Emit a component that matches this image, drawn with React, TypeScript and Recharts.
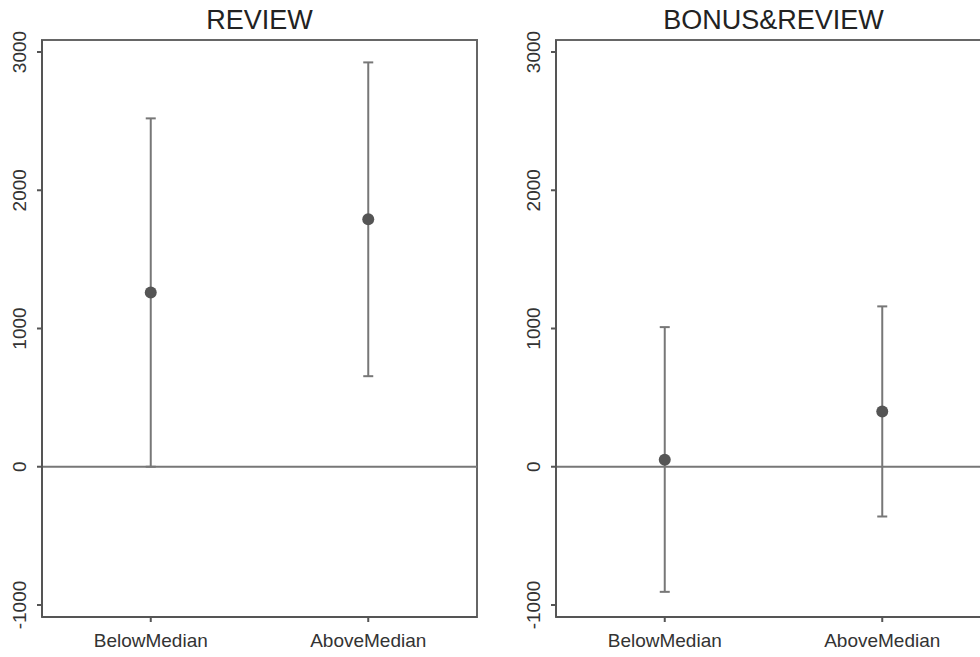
import {
  ComposedChart,
  Scatter,
  ErrorBar,
  XAxis,
  YAxis,
  ReferenceLine,
  ReferenceArea,
} from 'recharts';

const categories = ['BelowMedian', 'AboveMedian'];
const yTicks = [-1000, 0, 1000, 2000, 3000];

// REVIEW panel
const reviewMean = [1260, 1790];
const reviewLow = [0, 655];
const reviewHigh = [2520, 2925];

// BONUS&REVIEW panel
const bonusMean = [50, 400];
const bonusLow = [-905, -360];
const bonusHigh = [1010, 1160];

const font = '"Liberation Sans", Arial, sans-serif';
const yMin = -1087;
const yMax = 3087;

const buildRows = (mean: number[], low: number[], high: number[]) =>
  categories.map((c, i) => ({
    x: i + 1,
    name: c,
    y: mean[i],
    err: [mean[i] - low[i], high[i] - mean[i]],
  }));

const YTick = (props: any) => {
  const { x, y, payload } = props;
  const tx = x - 9;
  return (
    <text
      x={tx}
      y={y}
      transform={`rotate(-90 ${tx} ${y})`}
      textAnchor="middle"
      fontSize={19}
      fontFamily={font}
      fill="#333"
    >
      {payload.value}
    </text>
  );
};

const XTick = (props: any) => {
  const { x, y, payload } = props;
  return (
    <text
      x={x}
      y={y + 23}
      textAnchor="middle"
      fontSize={19}
      fontFamily={font}
      fill="#333"
    >
      {categories[payload.value - 1]}
    </text>
  );
};

function Panel({ title, rows, left }: { title: string; rows: any[]; left: number }) {
  return (
    <div style={{ position: 'absolute', left, top: 0 }}>
      <div
        style={{
          position: 'absolute',
          left: 42,
          width: 435,
          top: 3,
          textAlign: 'center',
          fontFamily: font,
          fontSize: 27,
          lineHeight: '34px',
          color: '#222',
        }}
      >
        {title}
      </div>
      <ComposedChart
        width={490}
        height={657}
        data={rows}
        margin={{ top: 40, right: 13, bottom: 0, left: 0 }}
      >
        <XAxis
          dataKey="x"
          type="number"
          domain={[0.5, 2.5]}
          ticks={[1, 2]}
          allowDataOverflow
          height={40}
          tick={<XTick />}
          tickSize={5}
          stroke="#555"
          strokeWidth={2}
        />
        <YAxis
          type="number"
          domain={[yMin, yMax]}
          ticks={yTicks}
          allowDataOverflow
          width={42}
          tick={<YTick />}
          tickSize={5}
          stroke="#555"
          strokeWidth={2}
        />
        <ReferenceArea
          x1={0.5}
          x2={2.5}
          y1={yMin}
          y2={yMax}
          fill="none"
          stroke="#666"
          strokeWidth={2}
          fillOpacity={0}
        />
        <ReferenceLine y={0} stroke="#777" strokeWidth={2} />
        <Scatter
          dataKey="y"
          isAnimationActive={false}
          shape={(p: any) => <circle cx={p.cx} cy={p.cy} r={6} fill="#555" />}
        >
          <ErrorBar
            dataKey="err"
            direction="y"
            width={5}
            stroke="#777"
            strokeWidth={2}
            isAnimationActive={false}
          />
        </Scatter>
      </ComposedChart>
    </div>
  );
}

export default function App() {
  return (
    <div
      style={{
        position: 'absolute',
        left: 0,
        top: 0,
        width: 980,
        height: 657,
        overflow: 'hidden',
        background: '#fff',
      }}
    >
      <Panel title="REVIEW" rows={buildRows(reviewMean, reviewLow, reviewHigh)} left={0} />
      <Panel
        title="BONUS&REVIEW"
        rows={buildRows(bonusMean, bonusLow, bonusHigh)}
        left={514}
      />
    </div>
  );
}
